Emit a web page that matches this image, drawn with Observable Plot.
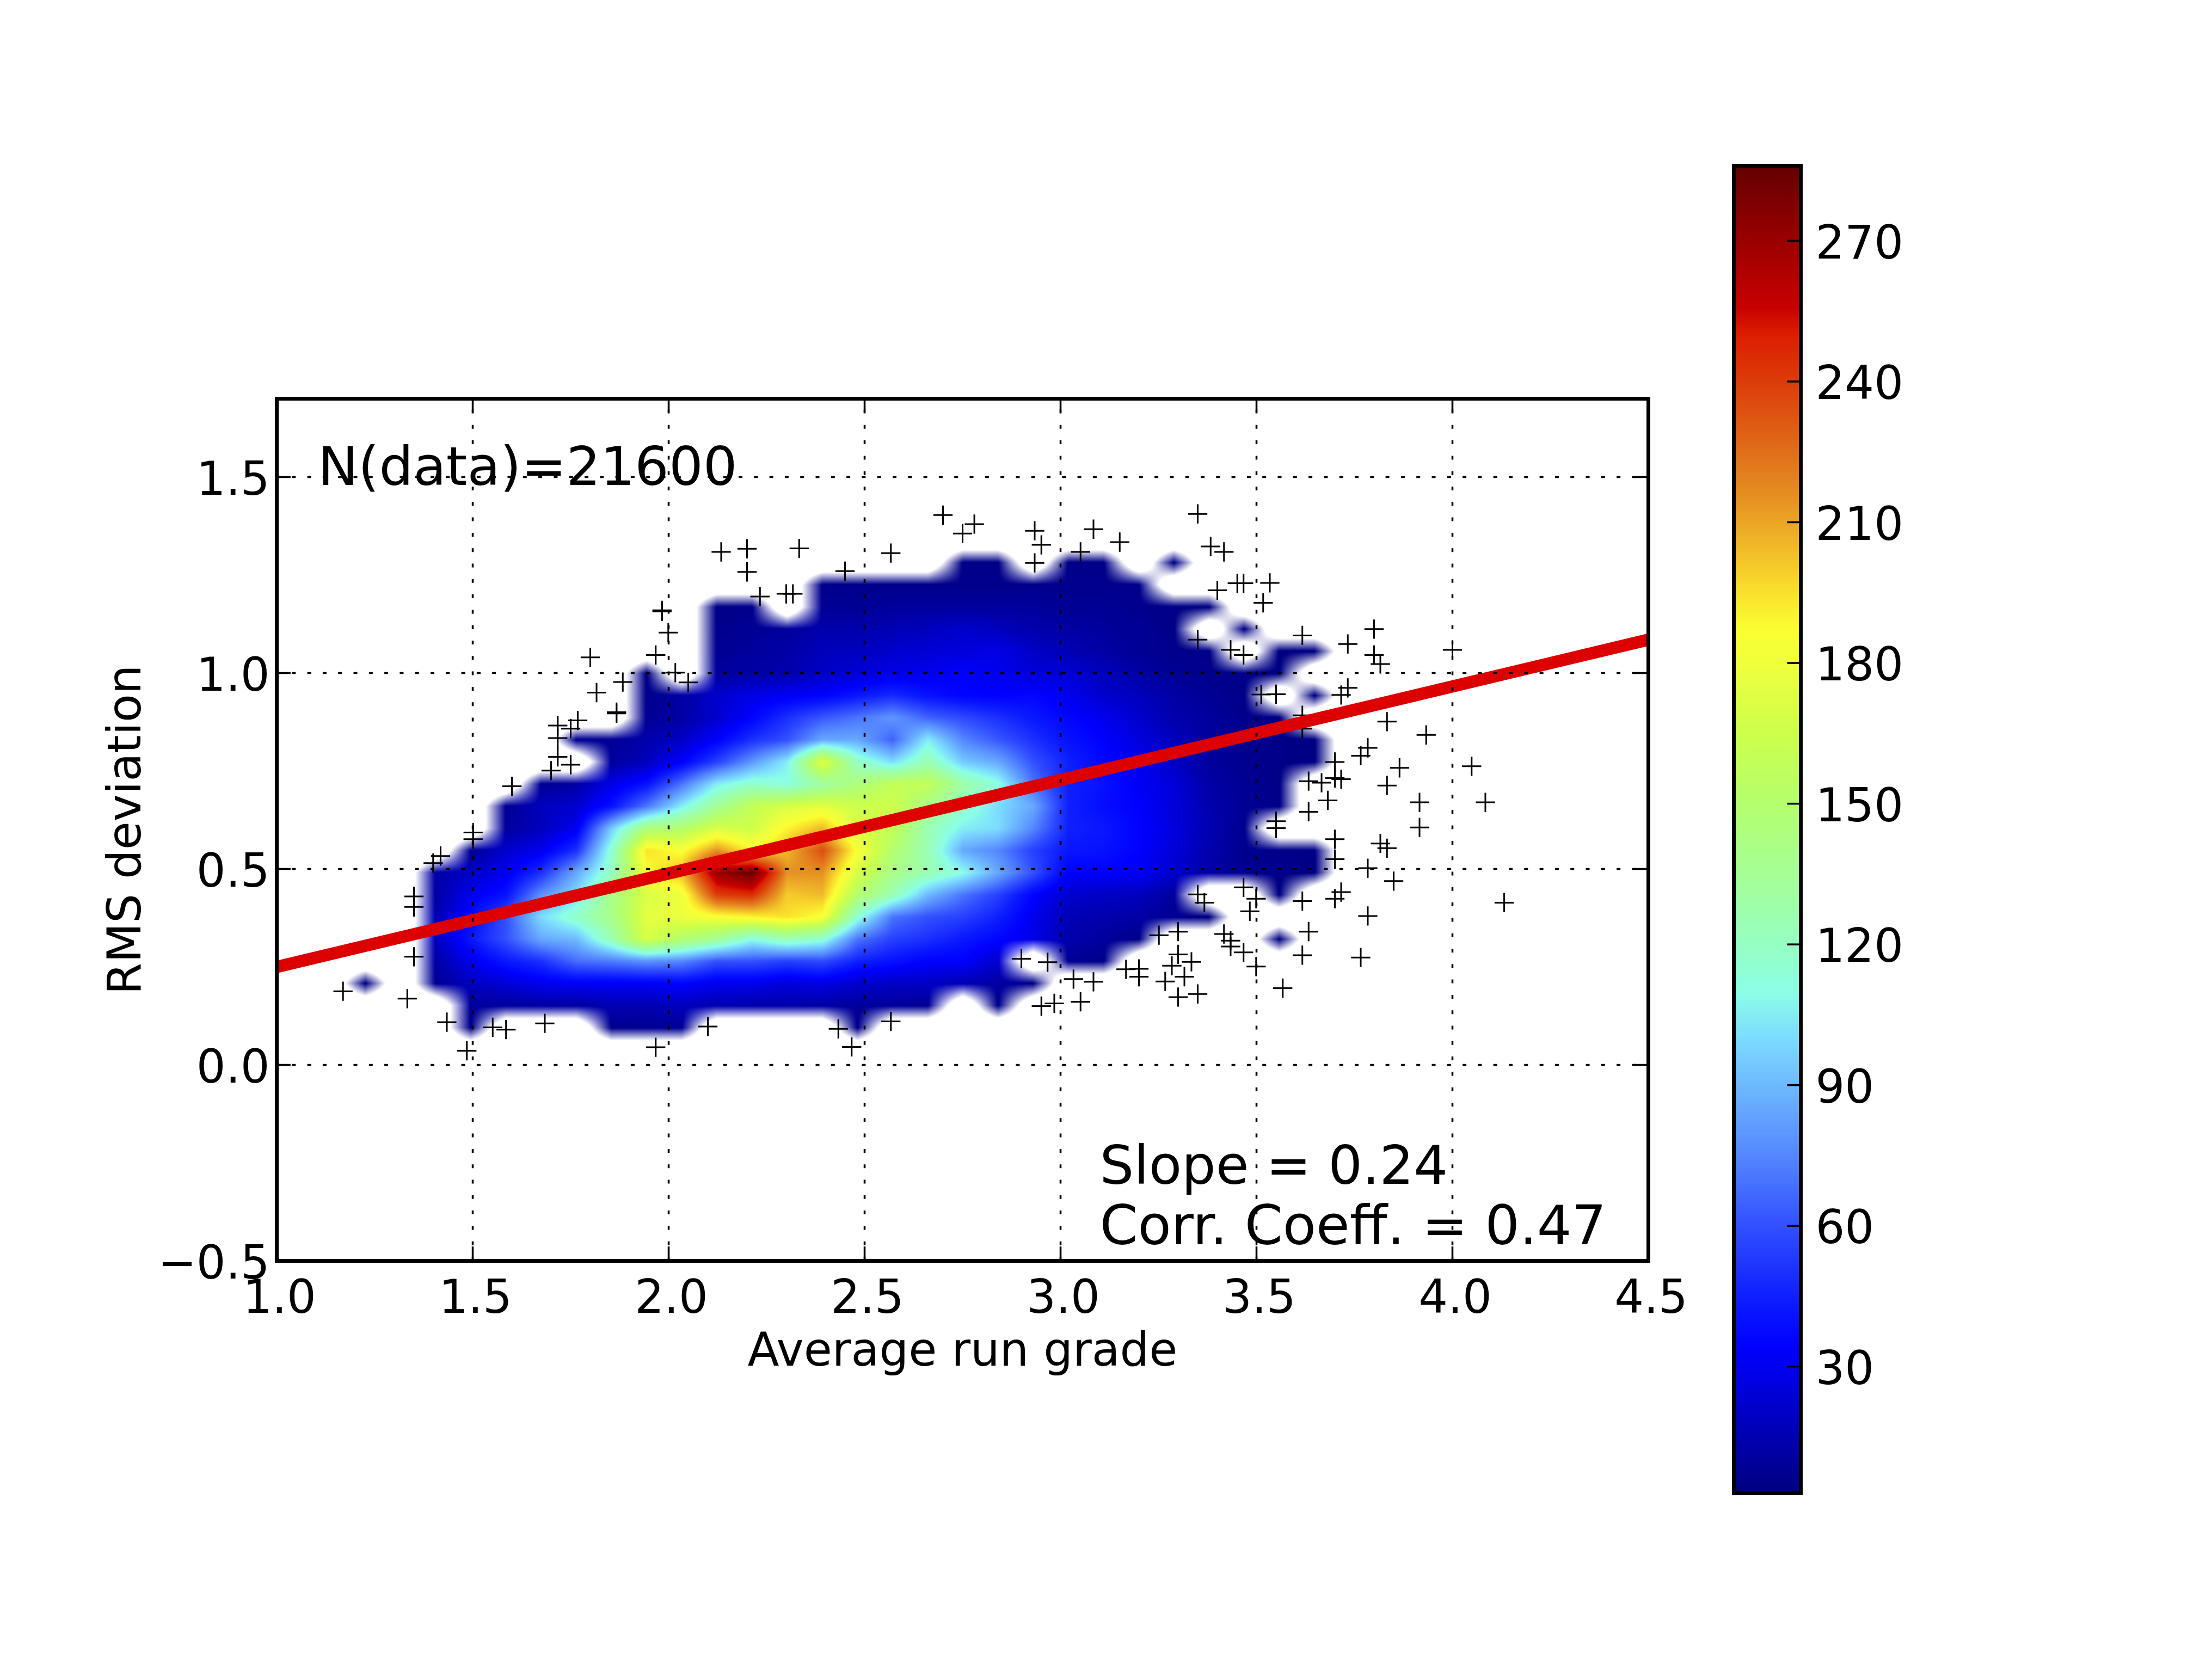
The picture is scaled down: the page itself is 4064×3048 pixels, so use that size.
<!DOCTYPE html>
<html>
<head>
<meta charset="utf-8">
<script src="https://cdn.jsdelivr.net/npm/d3@7"></script>
<script src="https://cdn.jsdelivr.net/npm/@observablehq/plot@0.6"></script>
<style>
  html, body { margin: 0; padding: 0; background: white; }
  #page { display: flex; width: 4064px; height: 3048px; }
  #page > div { flex: none; }
</style>
</head>
<body>
<div id="page"><div id="chart"></div><div id="bar"></div></div>
<script>
const _ = null

// bin centres of the 2d histogram
const binX = [1.226,1.316,1.405,1.495,1.585,1.674,1.764,1.854,1.944,2.033,2.123,2.213,2.302,2.392,2.482,2.571,2.661,2.751,2.841,2.930,3.020,3.110,3.199,3.289,3.379,3.468,3.558,3.648]
const binY = [1.2815,1.225,1.1685,1.112,1.0555,0.999,0.9425,0.886,0.8295,0.773,0.7165,0.66,0.6035,0.547,0.4905,0.434,0.3775,0.321,0.2645,0.208,0.1515,0.095]

// counts per bin, top row first, _ = masked
const counts = [
  [_,_,_,_,_,_,_,_,_,_,_,_,_,_,_,_,_,5,5,_,5,5,_,5,_,_,_,_],
  [_,_,_,_,_,_,_,_,_,_,_,_,_,6,6,6,6,6,6,6,6,6,6,_,_,_,_,_],
  [_,_,_,_,_,_,_,_,_,_,5,6,_,8,8,10,10,10,10,10,8,8,6,5,4,_,_,_],
  [_,_,_,_,_,_,_,_,_,_,6,8,10,14,14,16,18,22,18,14,12,10,8,5,_,4,_,_],
  [_,_,_,_,_,_,_,_,_,_,8,10,12,18,18,22,24,25,28,20,16,12,8,6,5,_,4,4],
  [_,_,_,_,_,_,_,_,5,_,10,12,14,20,24,28,30,34,30,25,24,18,12,8,6,6,4,_],
  [_,_,_,_,_,_,_,_,6,12,22,28,32,34,42,48,40,35,34,36,30,22,18,12,8,5,_,4],
  [_,_,_,_,_,_,_,_,8,12,22,35,50,62,70,80,65,58,50,42,36,30,22,14,10,6,4,_],
  [_,_,_,_,_,_,8,8,14,20,34,50,60,85,85,65,105,75,62,50,40,34,26,18,10,6,5,4],
  [_,_,_,_,_,_,_,10,18,34,55,80,105,175,120,100,125,95,85,60,45,36,30,20,10,7,5,4],
  [_,_,_,_,_,8,12,28,40,70,105,118,112,130,145,160,160,130,112,70,45,40,32,25,12,8,5,_],
  [_,_,_,_,8,18,22,40,70,105,135,160,170,175,165,165,140,118,100,85,45,38,34,25,14,8,5,_],
  [_,_,_,_,10,18,30,95,145,150,170,165,190,205,170,160,125,105,100,75,45,42,35,26,15,7,_,_],
  [_,_,_,8,22,30,50,115,195,185,215,190,205,235,185,150,125,85,75,55,42,40,34,25,14,7,6,5],
  [_,_,12,20,30,50,85,120,185,205,270,286,215,215,170,140,125,110,85,60,34,34,32,22,12,7,5,4],
  [_,_,12,30,40,78,100,140,170,180,240,245,200,205,150,125,90,70,55,35,22,20,18,10,_,_,4,_],
  [_,_,15,38,60,100,118,140,175,178,185,190,195,185,115,70,60,55,45,30,16,14,12,8,4,_,_,_],
  [_,_,18,42,60,85,90,125,170,150,135,110,125,115,70,55,50,42,36,28,14,10,6,_,_,_,4,_],
  [_,_,12,30,42,50,68,72,78,75,60,60,55,58,45,40,34,34,22,_,8,6,_,_,_,_,_,_],
  [4,_,8,18,25,30,32,32,32,35,30,30,25,28,22,20,20,16,12,6,_,_,_,_,_,_,_,_],
  [_,_,_,10,10,12,12,15,15,18,15,14,14,12,10,10,8,_,5,_,_,_,_,_,_,_,_,_],
  [_,_,_,6,_,_,_,6,8,8,_,_,_,_,5,_,_,_,_,_,_,_,_,_,_,_,_,_]
]

// single points outside the histogram mask
const markerX = [1.169,1.333,1.434,1.485,1.551,1.585,1.684,1.350,1.350,1.350,1.399,1.418,1.501,1.501,1.600,1.700,1.750,1.717,1.717,1.717,1.750,1.768,1.816,1.867,1.867,1.800,1.883,1.967,1.983,1.983,1.999,2.017,2.050,2.134,2.200,2.200,2.233,2.300,2.317,2.333,2.450,2.567,2.700,2.750,2.780,1.967,2.100,2.433,2.467,2.567,
  2.934,2.951,2.934,3.084,3.051,3.151,3.350,3.383,3.417,3.400,3.451,3.467,3.534,3.517,3.350,3.434,3.467,3.617,3.733,3.800,3.800,3.816,4.000,3.512,3.550,3.733,3.716,3.617,3.617,3.833,3.933,3.784,3.766,4.049,3.865,3.700,3.700,3.716,3.633,3.666,3.833,3.682,3.916,4.084,3.633,3.550,3.550,3.916,3.700,3.816,3.833,3.700,3.784,3.850,4.132,3.467,3.499,3.483,3.350,3.367,3.617,3.716,3.700,3.784,3.633,3.617,3.766,3.567,3.417,3.434,3.434,3.467,3.499,3.251,3.300,3.300,3.334,3.284,3.316,3.267,3.300,3.350,3.167,3.200,3.200,3.033,3.084,3.051,2.984,2.951,2.900,2.967]
const markerY = [0.188,0.169,0.109,0.036,0.096,0.090,0.106,0.276,0.430,0.403,0.515,0.533,0.593,0.576,0.711,0.751,0.766,0.786,0.834,0.866,0.858,0.879,0.950,0.897,0.900,1.040,0.977,1.046,1.160,1.157,1.103,1.001,0.976,1.309,1.317,1.258,1.195,1.202,1.202,1.318,1.260,1.306,1.403,1.356,1.380,0.045,0.098,0.092,0.046,0.111,
  1.363,1.327,1.281,1.367,1.309,1.334,1.406,1.323,1.309,1.211,1.229,1.229,1.230,1.179,1.085,1.059,1.046,1.096,1.074,1.112,1.046,1.023,1.059,0.945,0.946,0.962,0.944,0.892,0.858,0.876,0.842,0.809,0.789,0.762,0.758,0.773,0.732,0.729,0.724,0.720,0.713,0.675,0.670,0.670,0.646,0.622,0.604,0.606,0.576,0.565,0.553,0.525,0.502,0.469,0.414,0.453,0.424,0.392,0.435,0.414,0.418,0.441,0.424,0.380,0.340,0.280,0.274,0.196,0.334,0.317,0.302,0.287,0.251,0.331,0.340,0.282,0.263,0.253,0.225,0.213,0.173,0.181,0.244,0.245,0.225,0.219,0.212,0.161,0.157,0.150,0.271,0.262]

const fitX = [1.0, 4.5]
const fitY = [0.25, 1.085]

const xTicks = [1.0,1.5,2.0,2.5,3.0,3.5,4.0,4.5]
const yTicks = [-0.5,0.0,0.5,1.0,1.5]
const barTicks = [30,60,90,120,150,180,210,240,270]

// colour bar
const colorValues = [3,34,43,60,75,90,100,110,120,135,150,165,180,187,195,205,215,225,240,250,256,270,286]
const colorStops = ['#000080','#0000ff','#0a19ff','#3250ff','#5587ff','#6eb9ff','#7ddcff','#8cffe6','#96ffc3','#a5ff96','#b4ff6e','#cdff4b','#f0ff3c','#faff32','#fae12d','#f0b928','#e69123','#e16e19','#dc3c0a','#dc1e00','#c80000','#9b0000','#640000']

const colorScale = {type: 'linear', domain: colorValues, range: colorStops, clamp: true}
const fmt = d => d.toFixed(1).replace('-', '\u2212')
const font = 'DejaVu Sans'

const dx = (binX[binX.length - 1] - binX[0]) / (binX.length - 1)
const dy = (binY[binY.length - 1] - binY[0]) / (binY.length - 1)

// bilinear lookup in the histogram, returns [value, mask]
function sample(x, y) {
  const fx = (x - binX[0]) / dx
  const fy = (y - binY[0]) / dy
  const i = Math.floor(fx), j = Math.floor(fy)
  const tx = fx - i, ty = fy - j
  let sum = 0, weight = 0
  for (const [a, b, w] of [[i, j, (1 - tx) * (1 - ty)], [i + 1, j, tx * (1 - ty)], [i, j + 1, (1 - tx) * ty], [i + 1, j + 1, tx * ty]]) {
    const v = counts[b] && counts[b][a]
    if (v != null) { sum += v * w; weight += w }
  }
  return [weight > 0 ? sum / weight : NaN, weight]
}

const chart = Plot.plot({
  width: 3100,
  height: 3048,
  marginLeft: 508,
  marginRight: 72,
  marginTop: 732,
  marginBottom: 732,
  x: {domain: [1, 4.5], label: null},
  y: {domain: [-0.5, 1.7], label: null},
  color: colorScale,
  opacity: {domain: [0, 1], range: [0, 1]},
  style: {fontFamily: font, fontSize: '84.67px', background: 'white', color: 'black'},
  marks: [
    Plot.raster({
      x1: 1, x2: 4.5, y1: -0.5, y2: 1.7,
      pixelSize: 2,
      fill: (x, y) => sample(x, y)[0],
      fillOpacity: (x, y) => Math.min(1, Math.max(0, (sample(x, y)[1] - 0.42) / 0.56))
    }),
    Plot.dot(markerX, {x: markerX, y: markerY, symbol: 'plus', r: 11.4, stroke: 'black', strokeWidth: 3}),
    Plot.line(fitX, {x: fitX, y: fitY, stroke: '#dd0000', strokeWidth: 22.5, clip: true}),
    Plot.ruleX(xTicks, {x: d => d, y1: -0.5, y2: 1.7, stroke: 'black', strokeWidth: 3.5, strokeDasharray: '7 21.3'}),
    Plot.ruleY(yTicks, {y: d => d, x1: 1, x2: 4.5, stroke: 'black', strokeWidth: 3.5, strokeDasharray: '7 21.3'}),
    Plot.ruleX(xTicks, {x: d => d, y1: -0.5, y2: -0.464, stroke: 'black', strokeWidth: 3.5}),
    Plot.ruleX(xTicks, {x: d => d, y1: 1.664, y2: 1.7, stroke: 'black', strokeWidth: 3.5}),
    Plot.ruleY(yTicks, {y: d => d, x1: 1, x2: 1.036, stroke: 'black', strokeWidth: 3.5}),
    Plot.ruleY(yTicks, {y: d => d, x1: 4.464, x2: 4.5, stroke: 'black', strokeWidth: 3.5}),
    Plot.axisX(xTicks, {tickSize: 0, tickPadding: 35, dx: 5, tickFormat: fmt, label: 'Average run grade', labelAnchor: 'center', labelArrow: 'none', labelOffset: 192}),
    Plot.axisY(yTicks, {tickSize: 0, tickPadding: 13, dy: 5, tickFormat: fmt, label: 'RMS deviation', labelAnchor: 'center', labelArrow: 'none', labelOffset: 311}),
    Plot.text(['N(data)=21600'], {x: [1.105], y: [1.524], text: d => d, textAnchor: 'start', fontSize: 98.8, fill: 'black'}),
    Plot.text(['Slope = 0.24'], {x: [3.1], y: [-0.259], text: d => d, textAnchor: 'start', fontSize: 98.8, fill: 'black'}),
    Plot.text(['Corr. Coeff. = 0.47'], {x: [3.1], y: [-0.413], text: d => d, textAnchor: 'start', fontSize: 100.2, fill: 'black'}),
    Plot.frame({stroke: 'black', strokeWidth: 7})
  ]
})
d3.select('#chart').append(() => chart)

const bar = Plot.plot({
  width: 964,
  height: 3048,
  marginLeft: 85,
  marginRight: 756,
  marginTop: 304,
  marginBottom: 305,
  x: {domain: [0, 1], axis: null},
  y: {domain: [3, 286], label: null},
  color: colorScale,
  style: {fontFamily: font, fontSize: '84.67px', background: 'white', color: 'black'},
  marks: [
    Plot.raster({x1: 0, x2: 1, y1: 3, y2: 286, pixelSize: 2, fill: (x, y) => y}),
    Plot.ruleY(barTicks, {y: d => d, x1: 0.8, x2: 1, stroke: 'black', strokeWidth: 3.5}),
    Plot.axisY(barTicks, {anchor: 'right', tickSize: 0, tickPadding: 27, dy: 5, label: null}),
    Plot.frame({stroke: 'black', strokeWidth: 7})
  ]
})
d3.select('#bar').append(() => bar)
</script>
</body>
</html>
